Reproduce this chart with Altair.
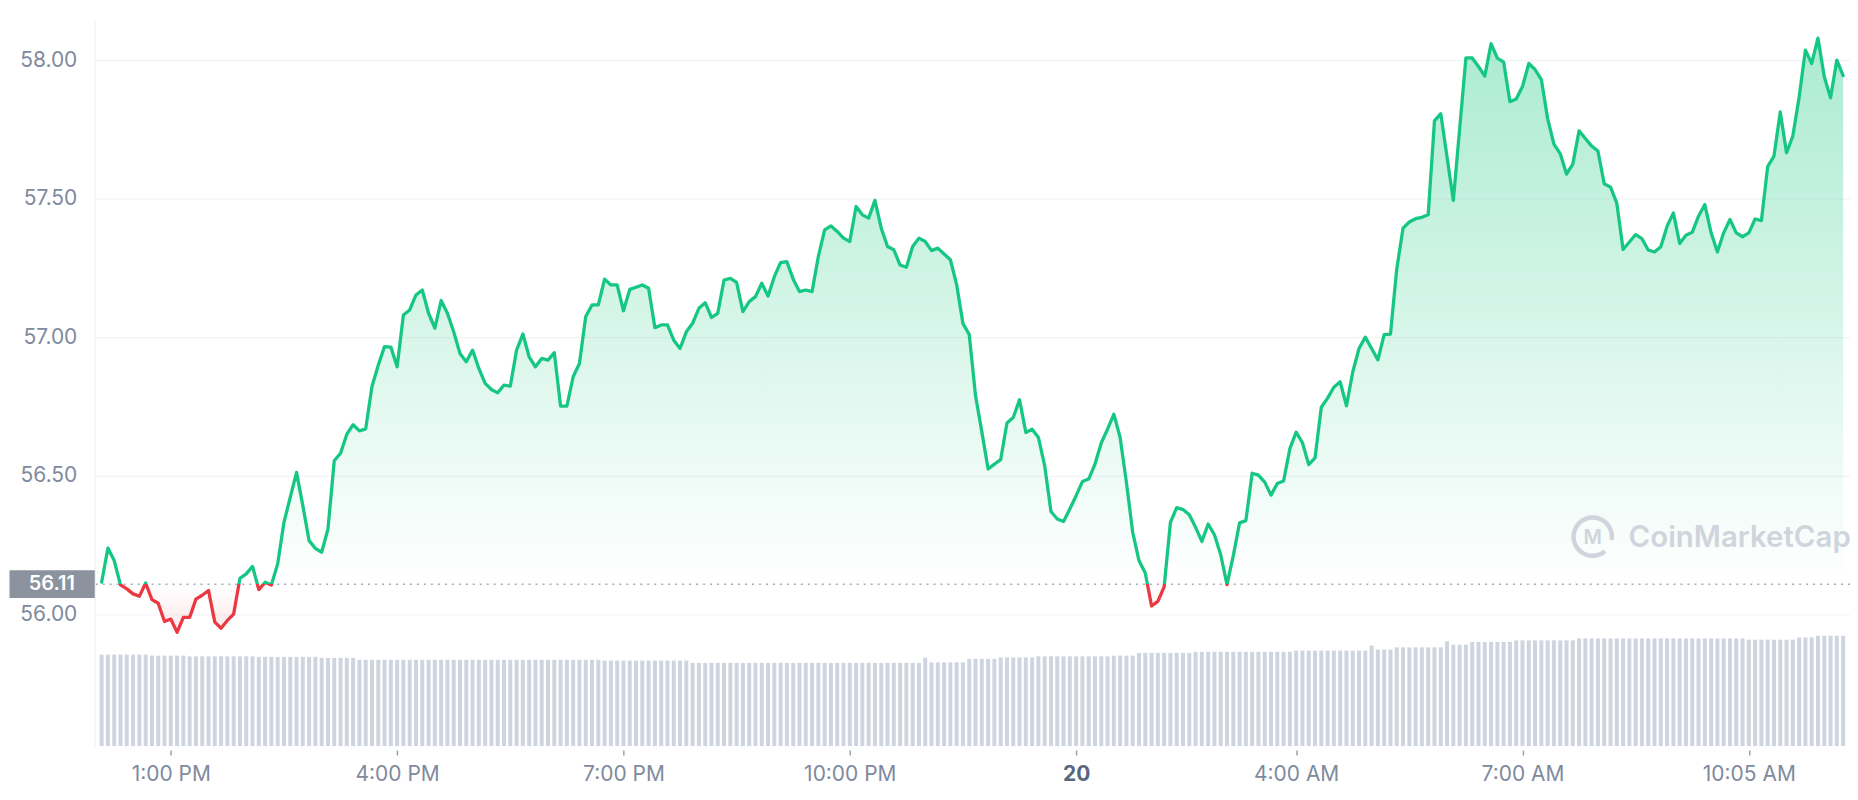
import altair as alt
import pandas as pd

# ---------------- data ----------------
OPEN_PRICE = 56.11

# minutes after 12:00 PM (day 19) and price (USD)
minutes = [
    5, 10, 15, 20, 25, 30, 35, 40, 45, 50, 55, 60, 65, 70, 75, 80, 85, 90, 95, 100,
    105, 110, 115, 120, 125, 130, 135, 140, 145, 150, 160, 165, 170, 175, 180, 185, 190, 195, 200, 205,
    210, 215, 220, 225, 230, 235, 240, 245, 250, 255, 260, 265, 270, 275, 280, 285, 290, 295, 300, 305,
    310, 315, 320, 325, 330, 335, 340, 345, 350, 355, 360, 365, 370, 375, 380, 385, 390, 395, 400, 405,
    410, 415, 420, 425, 430, 435, 440, 445, 450, 455, 460, 465, 470, 475, 480, 485, 490, 495, 500, 505,
    510, 515, 520, 525, 530, 535, 540, 545, 550, 555, 560, 565, 570, 575, 580, 585, 590, 595, 600, 605,
    610, 615, 620, 625, 630, 635, 640, 645, 650, 655, 660, 665, 670, 675, 680, 685, 690, 695, 700, 705,
    710, 715, 720, 725, 730, 735, 740, 745, 750, 755, 760, 765, 770, 775, 780, 785, 790, 795, 800, 805,
    810, 815, 820, 825, 830, 835, 840, 845, 850, 855, 860, 865, 870, 875, 880, 885, 890, 895, 900, 905,
    910, 915, 920, 925, 930, 935, 940, 945, 950, 955, 960, 965, 970, 975, 980, 985, 990, 995, 1000, 1005,
    1010, 1015, 1020, 1025, 1030, 1035, 1040, 1045, 1050, 1055, 1060, 1065, 1070, 1080, 1090, 1095, 1100, 1105, 1110, 1115,
    1120, 1125, 1130, 1135, 1140, 1145, 1150, 1155, 1160, 1165, 1170, 1175, 1180, 1185, 1190, 1195, 1200, 1205, 1210, 1215,
    1220, 1225, 1230, 1235, 1240, 1245, 1250, 1255, 1260, 1265, 1270, 1275, 1280, 1285, 1290, 1295, 1300, 1305, 1310, 1315,
    1320, 1325, 1330, 1335, 1340, 1345, 1350, 1355, 1360, 1365, 1370, 1375, 1380, 1385, 1390,
]
prices = [
    56.117, 56.240, 56.195, 56.107, 56.093, 56.075, 56.066, 56.114, 56.054, 56.041, 55.975, 55.984, 55.936, 55.990, 55.990, 56.056, 56.070, 56.087, 55.973, 55.951,
    55.979, 56.002, 56.131, 56.147, 56.174, 56.090, 56.117, 56.107, 56.183, 56.333, 56.513, 56.393, 56.267, 56.239, 56.225, 56.309, 56.555, 56.582, 56.651, 56.685,
    56.663, 56.670, 56.823, 56.900, 56.967, 56.965, 56.894, 57.081, 57.099, 57.153, 57.171, 57.087, 57.033, 57.133, 57.087, 57.020, 56.942, 56.912, 56.954, 56.888,
    56.834, 56.812, 56.800, 56.828, 56.824, 56.954, 57.012, 56.930, 56.894, 56.924, 56.918, 56.945, 56.752, 56.752, 56.858, 56.906, 57.075, 57.117, 57.117, 57.210,
    57.189, 57.189, 57.096, 57.173, 57.181, 57.189, 57.177, 57.035, 57.045, 57.045, 56.990, 56.960, 57.020, 57.051, 57.105, 57.125, 57.072, 57.087, 57.207, 57.213,
    57.198, 57.093, 57.129, 57.147, 57.195, 57.149, 57.219, 57.270, 57.273, 57.210, 57.165, 57.171, 57.165, 57.292, 57.388, 57.402, 57.382, 57.358, 57.346, 57.472,
    57.442, 57.430, 57.494, 57.394, 57.328, 57.316, 57.261, 57.253, 57.328, 57.358, 57.346, 57.313, 57.322, 57.301, 57.280, 57.190, 57.050, 57.010, 56.790, 56.660,
    56.525, 56.543, 56.559, 56.691, 56.711, 56.775, 56.657, 56.669, 56.639, 56.537, 56.372, 56.345, 56.336, 56.381, 56.429, 56.480, 56.489, 56.543, 56.619, 56.669,
    56.723, 56.639, 56.477, 56.297, 56.195, 56.150, 56.031, 56.048, 56.100, 56.333, 56.386, 56.379, 56.360, 56.315, 56.264, 56.327, 56.288, 56.216, 56.108, 56.213,
    56.331, 56.339, 56.510, 56.503, 56.478, 56.431, 56.473, 56.482, 56.599, 56.658, 56.620, 56.541, 56.565, 56.748, 56.781, 56.820, 56.840, 56.753, 56.875, 56.960,
    57.001, 56.960, 56.919, 57.010, 57.012, 57.247, 57.394, 57.416, 57.428, 57.433, 57.442, 57.781, 57.807, 57.494, 58.008, 58.008, 57.977, 57.942, 58.059, 58.007,
    57.993, 57.850, 57.860, 57.905, 57.988, 57.966, 57.930, 57.789, 57.697, 57.663, 57.589, 57.625, 57.745, 57.717, 57.690, 57.672, 57.554, 57.542, 57.484, 57.317,
    57.344, 57.371, 57.356, 57.315, 57.308, 57.327, 57.401, 57.449, 57.339, 57.368, 57.379, 57.437, 57.479, 57.377, 57.308, 57.377, 57.425, 57.377, 57.363, 57.377,
    57.427, 57.421, 57.616, 57.654, 57.813, 57.666, 57.726, 57.866, 58.036, 57.988, 58.079, 57.940, 57.864, 58.000, 57.944,
]

# volume bars (one per 5-minute candle), read as runs of equal height
vol_counts = [8, 6, 11, 10, 6, 39, 14, 37, 1, 6, 5, 6, 12, 4, 9, 16, 12, 1, 3, 7, 1, 1, 3, 7, 10, 27, 8, 3, 5]
vol_levels = [100.9, 99.8, 99.0, 98.4, 97.3, 95.2, 94.3, 91.8, 97.6, 92.4, 96.2, 97.9, 99.0, 99.8, 102.8,
              104.0, 105.3, 110.8, 106.4, 108.9, 108.9, 115.5, 111.9, 114.9, 116.6, 118.8, 117.4, 119.9, 121.8]
volume = [lvl for c, lvl in zip(vol_counts, vol_levels) for _ in range(c)]
vol_minutes = list(range(5, 5 * len(volume) + 1, 5))

tick_minutes = [60, 240, 420, 600, 780, 955, 1135, 1315]
tick_labels = ["1:00 PM", "4:00 PM", "7:00 PM", "10:00 PM", "20", "4:00 AM", "7:00 AM", "10:05 AM"]
price_ticks = [56.0, 56.5, 57.0, 57.5, 58.0]

# ---------------- styling ----------------
GREEN = "#16c784"
RED = "#ea3943"
LABEL = "#808a9d"
FONT = "Inter"

price_df = pd.DataFrame({"minute": minutes, "price": prices, "base": OPEN_PRICE})
vol_df = pd.DataFrame({"minute": vol_minutes, "volume": volume})
base_df = pd.DataFrame({"base": [OPEN_PRICE], "label": [f"{OPEN_PRICE:.2f}"]})

label_expr = ""
for v, t in zip(tick_minutes, tick_labels):
    label_expr += f"datum.value == {v} ? '{t}' : "
label_expr += "''"

x_scale = alt.Scale(domain=[3.5, 1391.5], nice=False, zero=False)
x_axis = alt.Axis(
    values=tick_minutes, labelExpr=label_expr, grid=False, domain=False,
    ticks=True, tickSize=5, tickColor="#9aa1ad", tickWidth=1.5, offset=4,
    labelPadding=9, labelFontSize=21, labelFont=FONT,
    labelColor={"condition": {"test": "datum.value == 780", "value": "#58667e"}, "value": LABEL},
    labelFontWeight={"condition": {"test": "datum.value == 780", "value": 700}, "value": 400},
    title=None, labelFlush=False, labelOverlap=False,
)


def xenc():
    return alt.X("minute:Q", scale=x_scale, axis=x_axis)


y_scale = alt.Scale(domain=[55.526, 58.141], nice=False, zero=False)
y_axis = alt.Axis(
    values=price_ticks, format=".2f", orient="left", grid=True, gridColor="#eff2f5",
    gridWidth=1, domain=True, domainColor="#eceff3", ticks=False, labelPadding=18,
    labelFontSize=21, labelFont=FONT, labelColor=LABEL, title=None,
)


def yenc(field):
    return alt.Y(f"{field}:Q", scale=y_scale, axis=y_axis)


pmax, pmin = max(prices), min(prices)
split = (pmax - OPEN_PRICE) / (pmax - pmin)

line_grad = alt.Gradient(
    gradient="linear", x1=0, x2=0, y1=0, y2=1,
    stops=[
        alt.GradientStop(color=GREEN, offset=0),
        alt.GradientStop(color=GREEN, offset=split),
        alt.GradientStop(color=RED, offset=split),
        alt.GradientStop(color=RED, offset=1),
    ],
)
fill_grad = alt.Gradient(
    gradient="linear", x1=0, x2=0, y1=0, y2=1,
    stops=[
        alt.GradientStop(color="rgba(22,199,132,0.36)", offset=0),
        alt.GradientStop(color="rgba(22,199,132,0.0)", offset=split),
        alt.GradientStop(color="rgba(234,57,67,0.0)", offset=split),
        alt.GradientStop(color="rgba(234,57,67,0.12)", offset=1),
    ],
)

bars = alt.Chart(vol_df).mark_bar(width=4, color="#cfd5e0").encode(
    x=xenc(),
    y=alt.Y("volume:Q", scale=alt.Scale(domain=[0, 800], nice=False), axis=None),
)

area = alt.Chart(price_df).mark_area(fill=fill_grad).encode(
    x=xenc(), y=yenc("price"), y2="base:Q"
)

rule = alt.Chart(base_df).mark_rule(strokeDash=[2, 5], color="#a3aab6", strokeWidth=1.5).encode(
    y=yenc("base")
)

WM = "#d0d4dc"
wm_df = pd.DataFrame({"name": ["CoinMarketCap"]})
wm_ring = alt.Chart(wm_df).mark_arc(
    theta=2.44, theta2=8.03, innerRadius=17, outerRadius=21.5, color=WM
).encode(x=alt.value(1502), y=alt.value(517))
wm_m = alt.Chart(wm_df).mark_text(
    text="M", font=FONT, fontSize=20, fontWeight=600, color=WM, align="center", baseline="middle"
).encode(x=alt.value(1502), y=alt.value(518))
wm_text = alt.Chart(wm_df).mark_text(
    font=FONT, fontSize=29.5, fontWeight=600, color=WM, align="left", baseline="middle"
).encode(x=alt.value(1538), y=alt.value(518), text="name:N")

line = alt.Chart(price_df).mark_line(
    stroke=line_grad, strokeWidth=3.3, strokeJoin="round", strokeCap="round"
).encode(x=xenc(), y=yenc("price"))

box = alt.Chart(base_df).mark_point(
    shape="M-3.054,-1H3.054V1H-3.054Z", size=784, filled=True, color="#8c929e", opacity=1, strokeWidth=0
).encode(x=alt.value(-42.75), y=yenc("base"))
box_text = alt.Chart(base_df).mark_text(
    font=FONT, fontSize=20, fontWeight=600, color="white", align="center", baseline="middle"
).encode(x=alt.value(-43), y=yenc("base"), text="label:N")

price_layer = alt.layer(area, rule, wm_ring, wm_m, wm_text, line, box, box_text)

chart = alt.layer(bars, price_layer).resolve_scale(y="independent").properties(
    width=1760, height=727,
    autosize=alt.AutoSizeParams(type="none"),
    padding={"left": 87, "top": 12, "right": 0, "bottom": 45},
    background="white",
).configure_view(stroke=None)

chart.save("out.html", embed_options={"renderer": "svg", "actions": False})
